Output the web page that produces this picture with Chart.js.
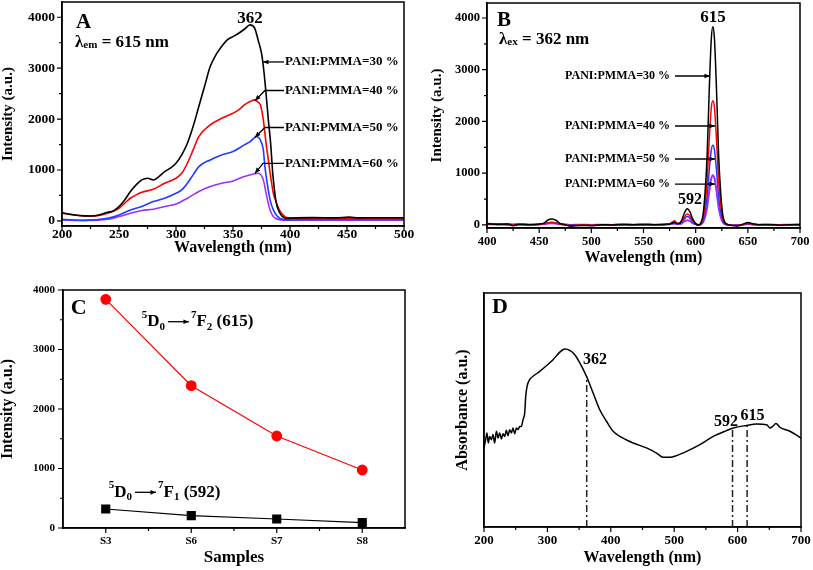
<!DOCTYPE html>
<html><head><meta charset="utf-8">
<script src="https://cdn.jsdelivr.net/npm/chart.js@4/dist/chart.umd.min.js"></script>
<style>
html,body{margin:0;padding:0;background:#fff;width:813px;height:570px;overflow:hidden}
.p{position:absolute}
</style></head><body>
<div class="p" style="left:0;top:0;width:425px;height:270px"><canvas id="cA"></canvas></div>
<div class="p" style="left:425px;top:0;width:388px;height:270px"><canvas id="cB"></canvas></div>
<div class="p" style="left:0;top:280px;width:425px;height:290px"><canvas id="cC"></canvas></div>
<div class="p" style="left:425px;top:280px;width:388px;height:290px"><canvas id="cD"></canvas></div>
<script>
// ---------- Panel A : excitation spectra (λem = 615 nm) ----------
const aX30 = [200,210,220,225,230,240,245,250,255,260,265,270,275,280,285,290,295,300,305,310,315,320,325,330,335,340,345,350,355,360,365,369,372,375,377,379,381,383,385,388,391,397,405,420,440,452,460,480,500];
const aY30 = [160,120,98,95,105,170,196,280,412,576,707,805,838,805,871,969,1035,1133,1297,1526,1853,2246,2639,3032,3261,3425,3556,3621,3687,3765,3850,3785,3556,3294,2960,2500,1985,1526,900,350,160,53,60,65,60,75,60,62,60];
const aX40 = [200,210,220,225,230,240,250,255,260,265,270,280,290,300,305,310,315,320,330,340,350,355,360,365,369,372,374,376.6,379,381,383,385.4,387.7,391,395.6,400,410,420,450,500];
const aY40 = [150,118,95,95,98,150,249,347,445,511,563,622,740,838,936,1133,1395,1657,1886,2017,2115,2180,2279,2344,2377,2330,2280,1985,1526,1198,870,544,380,200,85,60,45,45,45,45];
const aX50 = [200,220,240,250,260,270,280,290,300,305,310,315,320,330,340,350,360,365,370.8,375.2,376.6,378,380,382.5,385.4,391,400,410,450,500];
const aY50 = [30,10,52,118,216,282,380,445,543,609,740,904,1067,1198,1297,1362,1493,1558,1657,1526,1395,1067,740,413,216,53,20,25,30,30];
const aX60 = [200,220,240,250,260,270,280,290,300,310,320,330,340,350,360,368,372.2,376.6,379.6,382.5,387,394,400,450,500];
const aY60 = [20,10,33,85,150,203,229,282,334,445,576,674,740,786,871,920,937,806,478,216,53,15,15,15,15];
const aXTicks = [200,250,300,350,400,450,500];
const aXMinor = [225,275,325,375,425,475];
const intTicks = [0,1000,2000,3000,4000];
const intMinor = [500,1500,2500,3500];
const seriesLabels = ['PANI:PMMA=30 %','PANI:PMMA=40 %','PANI:PMMA=50 %','PANI:PMMA=60 %'];

// ---------- Panel B : emission spectra (λex = 362 nm) ----------
const bX = [400,410,420,425,430,440,450,455,458,462,466,470,475,480,490,500,510,520,530,540,550,560,570,575,578,580,582,585,587,589,592,595,597,600,603,605,607,609,611,613,615,616.5,618,620,622,624,626,628,632,640,645,650,655,660,670,680,690,700];
const bY30 = [20,10,15,-15,10,5,15,40,90,115,90,30,0,-25,-10,-15,5,0,10,5,10,5,10,15,40,50,25,40,110,220,310,230,120,25,0,40,190,620,1350,2600,3600,3830,3600,2600,1350,620,190,50,0,-20,10,45,20,5,10,-5,5,10];
const bY40 = [10,15,5,0,10,5,10,20,35,45,35,15,5,-10,0,-5,5,5,10,0,10,5,10,20,60,80,30,30,80,150,210,160,80,20,0,25,120,390,850,1640,2270,2400,2270,1640,850,390,120,30,0,-10,10,25,15,5,5,0,5,0];
const bY50 = [25,20,15,10,15,10,15,25,40,50,40,20,10,0,5,0,5,5,10,5,10,5,10,15,30,40,20,25,60,110,160,120,60,15,0,15,75,250,540,1050,1450,1540,1450,1050,540,250,75,20,0,-5,5,20,10,5,5,0,5,5];
const bY60 = [15,10,10,5,10,5,10,15,25,30,25,10,5,0,5,0,5,0,5,5,5,5,5,10,20,25,15,15,35,65,90,70,35,10,0,10,50,155,340,650,900,960,900,650,340,155,50,15,0,0,5,15,10,5,5,0,5,5];
const bXTicks = [400,450,500,550,600,650,700];
const bXMinor = [425,475,525,575,625,675];

// ---------- Panel C : peak intensities per sample ----------
const cSamples = ['S3','S6','S7','S8'];
const c615 = [3843,2392,1546,975];
const c592 = [319,207,151,90];

// ---------- Panel D : absorbance spectrum ----------
const dX = [200,202.6,204.7,206.8,208.9,211.6,214.2,216.8,219.5,222.1,224.7,227.4,230,232.6,235.3,237.9,240.5,243.2,245.8,248.4,251.1,253.7,256.3,258.9,261.6,264.2,265.8,267.9,272.1,277.4,287.9,298.4,308.9,318.4,327.4,335.3,343.2,351.1,361.6,372.1,382.6,393.2,403.7,414.2,435.3,456.3,472.1,482.6,493.2,503.7,519.5,540.5,561.6,582.6,593.2,614.2,630,645.8,651.1,655.3,660.5,666.8,682.6,700];
const dY = [33.8,37.3,40.2,35.9,38.7,37.3,39.5,35.9,40.9,38.0,40.2,37.6,39.9,38.7,41.3,39.0,41.6,40.2,42.3,39.9,42.3,41.6,43.0,43.0,45.9,48.7,55.8,60.1,63.0,64.4,66.5,68.9,71.5,74.4,76.1,75.5,73.6,70.1,64.4,57.3,50.1,45.2,40.9,38.7,35.9,33.8,31.6,29.8,29.8,30.5,32.3,35.2,38.7,41.2,42.3,43.4,44.0,43.7,42.3,43.0,44.2,42.6,40.9,38.0];
const dDropX = [362,592,615];
const dDropTop = [64.4,41.6,43.4];
const dXTicks = [200,300,400,500,600,700];
const dXMinor = [250,350,450,550,650];

// ---------- helpers ----------
const FONT = "'Liberation Serif','Times New Roman',serif";
Chart.defaults.font.family = FONT;
Chart.defaults.font.weight = 'bold';
Chart.defaults.color = '#000';
Chart.defaults.animation = false;

const xy = (xs, ys) => xs.map((x, i) => ({x, y: ys[i]}));

function fixAxis(size, prop){
  return s => { s[prop] = size; s.paddingLeft = 0; s.paddingRight = 0; s.paddingTop = 0; s.paddingBottom = 0; };
}
function axis(o){
  const horiz = o.pos === 'bottom';
  const type = o.type || 'linear';
  const a = {
    type, position: o.pos,
    afterFit: fixAxis(o.size, horiz ? 'height' : 'width'),
    grid: {display: false, drawTicks: false},
    border: {display: true, color: '#000', width: 1.5},
    ticks: {display: o.showTicks !== false, color: '#000', padding: o.pad, maxRotation: 0, autoSkip: false,
            font: {size: o.fs, weight: 'bold', family: FONT, lineHeight: 1.2}},
    title: {display: true, text: o.title, color: '#000',
            font: {size: o.tfs, weight: 'bold', family: FONT, lineHeight: 1},
            padding: horiz ? {top: 0, bottom: o.tpad} : {top: o.tpad, bottom: 0}}
  };
  if (type === 'linear') a.ticks.callback = v => String(v);
  if (o.min !== undefined) a.min = o.min;
  if (o.max !== undefined) a.max = o.max;
  if (o.ticksList) a.afterBuildTicks = s => { s.ticks = o.ticksList.map(v => ({value: v})); };
  if (o.offset !== undefined) a.offset = o.offset;
  return a;
}
function txt(ctx, s, x, y, size, align){
  ctx.font = 'bold ' + size + 'px ' + FONT;
  ctx.textAlign = align || 'left';
  ctx.textBaseline = 'middle';
  ctx.fillStyle = '#000';
  ctx.fillText(s, x, y);
}
function arrow(ctx, pts, head){
  head = head || 6;
  ctx.beginPath();
  ctx.moveTo(pts[0][0], pts[0][1]);
  for (let i = 1; i < pts.length; i++) ctx.lineTo(pts[i][0], pts[i][1]);
  ctx.strokeStyle = '#000'; ctx.lineWidth = 1.3; ctx.stroke();
  const [x1, y1] = pts[pts.length - 2], [x2, y2] = pts[pts.length - 1];
  const ang = Math.atan2(y2 - y1, x2 - x1);
  ctx.beginPath();
  ctx.moveTo(x2, y2);
  ctx.lineTo(x2 - head * Math.cos(ang - 0.4), y2 - head * Math.sin(ang - 0.4));
  ctx.lineTo(x2 - head * Math.cos(ang + 0.4), y2 - head * Math.sin(ang + 0.4));
  ctx.closePath(); ctx.fillStyle = '#000'; ctx.fill();
}
function decoPlugin(spec){
  return {
    id: 'deco',
    afterDraw(chart){
      const {ctx, chartArea: ca} = chart;
      const X = chart.scales.x, Y = chart.scales.y;
      ctx.save();
      ctx.strokeStyle = '#000'; ctx.lineWidth = 1.5;
      ctx.strokeRect(ca.left, ca.top, ca.right - ca.left, ca.bottom - ca.top);
      ctx.lineWidth = 1.2;
      ctx.beginPath();
      (spec.xMaj || []).forEach(v => { const p = X.getPixelForValue(v); ctx.moveTo(p, ca.bottom); ctx.lineTo(p, ca.bottom + 5); });
      (spec.xMin || []).forEach(v => { const p = X.getPixelForValue(v); ctx.moveTo(p, ca.bottom); ctx.lineTo(p, ca.bottom + 3); });
      (spec.yMaj || []).forEach(v => { const p = Y.getPixelForValue(v); ctx.moveTo(ca.left, p); ctx.lineTo(ca.left - 5, p); });
      (spec.yMin || []).forEach(v => { const p = Y.getPixelForValue(v); ctx.moveTo(ca.left, p); ctx.lineTo(ca.left - 3, p); });
      ctx.stroke();
      if (spec.draw) spec.draw(ctx, (v) => X.getPixelForValue(v), (v) => Y.getPixelForValue(v));
      ctx.restore();
    }
  };
}
function lineDS(data, color, w){
  return {data, borderColor: color, backgroundColor: color, borderWidth: w || 1.6, pointRadius: 0, cubicInterpolationMode: 'monotone', fill: false};
}
const baseOpts = (pad, scales) => ({
  responsive: true, maintainAspectRatio: false, animation: false,
  layout: {padding: pad},
  plugins: {legend: {display: false}, tooltip: {enabled: false}},
  scales
});
const COL = {k: '#000000', r: '#ff0000', b: '#1f3dff', p: '#9b30ff'};

// ---------- Chart A ----------
new Chart(document.getElementById('cA'), {
  type: 'line',
  data: {datasets: [
    lineDS(xy(aX30, aY30), COL.k), lineDS(xy(aX40, aY40), COL.r),
    lineDS(xy(aX50, aY50), COL.b), lineDS(xy(aX60, aY60), COL.p)
  ]},
  options: baseOpts({left: 0, top: 2, right: 21, bottom: 0}, {
    x: axis({pos: 'bottom', min: 200, max: 500, ticksList: aXTicks, size: 44, pad: 0.5, fs: 13.5, title: 'Wavelength (nm)', tfs: 16, tpad: 14}),
    y: axis({pos: 'left', min: -100, max: 4300, ticksList: intTicks, size: 62, pad: 7, fs: 13.5, title: 'Intensity (a.u.)', tfs: 15, tpad: 0.5})
  }),
  plugins: [decoPlugin({xMaj: aXTicks, xMin: aXMinor, yMaj: intTicks, yMin: intMinor, draw(ctx, px, py){
    txt(ctx, 'A', px(212.3), py(3888), 21);
    ctx.font = 'bold 17px ' + FONT;
    let x = px(211.4); const y = py(3495);
    txt(ctx, 'λ', x, y, 17); x += ctx.measureText('λ').width;
    txt(ctx, 'em', x, y + 2, 11); ctx.font = 'bold 11px ' + FONT; x += ctx.measureText('em').width;
    txt(ctx, ' = 615 nm', x, y, 17);
    txt(ctx, '362', px(365), py(3967), 17, 'center');
    const ly = [3122, 2562, 1835, 1132];
    seriesLabels.forEach((s, i) => txt(ctx, s, px(395.6), py(ly[i]), 13));
    arrow(ctx, [[px(394.7), py(3122)], [px(376.3), py(3122)]]);
    arrow(ctx, [[px(394.7), py(2562)], [px(378), py(2562)], [px(369.3), py(2361)]]);
    arrow(ctx, [[px(394.7), py(1835)], [px(378), py(1835)], [px(369.3), py(1642)]]);
    arrow(ctx, [[px(394.7), py(1132)], [px(376.3), py(1132)], [px(369.3), py(935)]]);
  }})]
});

// ---------- Chart B ----------
new Chart(document.getElementById('cB'), {
  type: 'line',
  data: {datasets: [
    lineDS(xy(bX, bY30), COL.k, 1.5), lineDS(xy(bX, bY40), COL.r, 1.5),
    lineDS(xy(bX, bY50), COL.b, 1.5), lineDS(xy(bX, bY60), COL.p, 2)
  ]},
  options: baseOpts({left: 0, top: 3, right: 13, bottom: 0}, {
    x: axis({pos: 'bottom', min: 400, max: 700, ticksList: bXTicks, size: 42, pad: 6, fs: 12.5, title: 'Wavelength (nm)', tfs: 16, tpad: 4}),
    y: axis({pos: 'left', min: -60, max: 4290, ticksList: intTicks, size: 62, pad: 7, fs: 12.5, title: 'Intensity (a.u.)', tfs: 15, tpad: 4.5})
  }),
  plugins: [decoPlugin({xMaj: bXTicks, xMin: bXMinor, yMaj: intTicks, yMin: intMinor, draw(ctx, px, py){
    txt(ctx, 'B', px(409.6), py(3942), 21);
    ctx.font = 'bold 17px ' + FONT;
    let x = px(411.5); const y = py(3575);
    txt(ctx, 'λ', x, y, 17); x += ctx.measureText('λ').width;
    txt(ctx, 'ex', x, y + 2, 11); ctx.font = 'bold 11px ' + FONT; x += ctx.measureText('ex').width;
    txt(ctx, ' = 362 nm', x, y, 17);
    txt(ctx, '615', px(616.6), py(4000), 17, 'center');
    txt(ctx, '592', px(594.6), py(481), 16, 'center');
    const ly = [2879, 1912, 1274, 790];
    seriesLabels.forEach((s, i) => txt(ctx, s, px(575.4), py(ly[i]), 12, 'right'));
    arrow(ctx, [[px(580.2), py(2879)], [px(613.7), py(2879)]]);
    [1912, 1274, 790].forEach(v => arrow(ctx, [[px(580.2), py(v)], [px(618.5), py(v)]]));
  }})]
});

// ---------- Chart C ----------
function transition(ctx, x, y, sup, sub, tail){
  const pieces = [['5', 11, -7], ['D', 17, 0], ['0', 11, 5], ['ARROW'], [sup, 11, -7], ['F', 17, 0], [sub, 11, 5], [tail, 17, 0]];
  for (const p of pieces){
    if (p[0] === 'ARROW'){
      arrow(ctx, [[x + 3, y], [x + 24, y]], 6); x += 26; continue;
    }
    txt(ctx, p[0], x, y + p[2], p[1]);
    ctx.font = 'bold ' + p[1] + 'px ' + FONT;
    x += ctx.measureText(p[0]).width;
  }
}
new Chart(document.getElementById('cC'), {
  type: 'line',
  data: {labels: cSamples, datasets: [
    {data: c615, borderColor: COL.r, backgroundColor: COL.r, borderWidth: 1.2, pointRadius: 4.8, pointStyle: 'circle', tension: 0},
    {data: c592, borderColor: '#000', backgroundColor: '#000', borderWidth: 1.2, pointRadius: 5.6, pointStyle: 'rect', tension: 0}
  ]},
  options: baseOpts({left: 0, top: 10, right: 20, bottom: 0}, {
    x: axis({type: 'category', pos: 'bottom', offset: true, size: 42, pad: 7, fs: 11, title: 'Samples', tfs: 17, tpad: 4}),
    y: axis({pos: 'left', min: 0, max: 4000, ticksList: intTicks, size: 63, pad: 8, fs: 11, title: 'Intensity (a.u.)', tfs: 16, tpad: 0})
  }),
  plugins: [decoPlugin({xMaj: [0, 1, 2, 3], xMin: [0.5, 1.5, 2.5], yMaj: intTicks, yMin: intMinor, draw(ctx, px, py){
    txt(ctx, 'C', px(-0.41), py(3697), 22);
    transition(ctx, px(0.42), py(3467), '7', '2', ' (615)');
    transition(ctx, px(0.035), py(600), '7', '1', ' (592)');
  }})]
});

// ---------- Chart D ----------
const dDrops = dDropX.map((x, i) => ({
  data: [{x, y: 0}, {x, y: dDropTop[i]}], borderColor: '#222', borderWidth: 1.5, borderDash: [7, 3, 2, 3], pointRadius: 0, fill: false
}));
new Chart(document.getElementById('cD'), {
  type: 'line',
  data: {datasets: [lineDS(xy(dX, dY), '#000', 1.5), ...dDrops]},
  options: baseOpts({left: 0, top: 13, right: 12, bottom: 0}, {
    x: axis({pos: 'bottom', min: 200, max: 700, ticksList: dXTicks, size: 43, pad: 6, fs: 13, title: 'Wavelength (nm)', tfs: 16, tpad: 4}),
    y: axis({pos: 'left', min: 0, max: 100, showTicks: false, size: 59, pad: 0, fs: 11, title: 'Absorbance (a.u.)', tfs: 16, tpad: 30})
  }),
  plugins: [decoPlugin({xMaj: dXTicks, xMin: dXMinor, draw(ctx, px, py){
    txt(ctx, 'D', px(212.6), py(94), 22);
    txt(ctx, '362', px(375), py(71.4), 16, 'center');
    txt(ctx, '592', px(581.7), py(45), 16, 'center');
    txt(ctx, '615', px(623.5), py(47.6), 16, 'center');
  }})]
});
</script>
</body></html>
